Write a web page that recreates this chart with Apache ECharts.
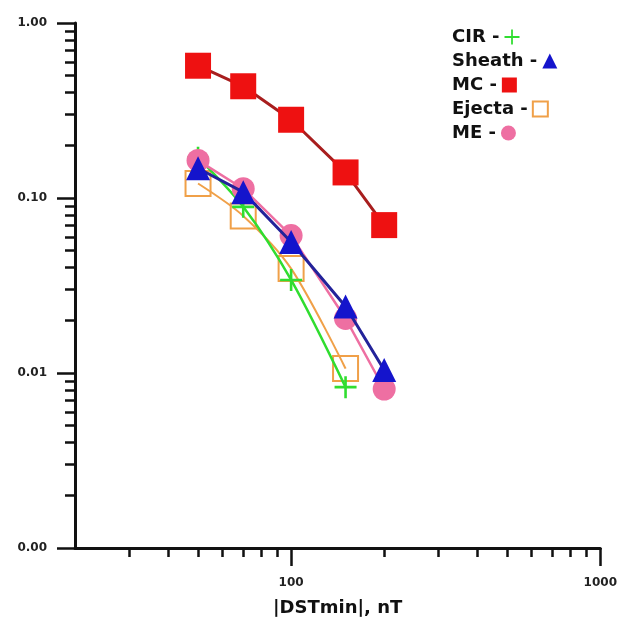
<!DOCTYPE html>
<html>
<head>
<meta charset="utf-8">
<script src="https://cdn.jsdelivr.net/npm/echarts@6/dist/echarts.min.js"></script>
<style>
  html, body { margin: 0; padding: 0; background: #fff; }
</style>
</head>
<body>
<div id="dstChart" style="width: 620px;height: 626px"></div>
<script>
  // |DSTmin| bins (nT)
  var dst = [50, 70, 100, 150, 200];
  var cir = [0.17, 0.089, 0.034, 0.0083];
  var sheath = [0.148, 0.108, 0.056, 0.024, 0.0104];
  var mc = [0.57, 0.435, 0.28, 0.14, 0.07];
  var ejecta = [0.121, 0.079, 0.0395, 0.0106];
  var me = [0.164, 0.113, 0.061, 0.0205, 0.0081];

  var legendNames = ['CIR', 'Sheath', 'MC', 'Ejecta', 'ME'];
  var xMajor = [100, 1000];
  var xMinor = [30, 40, 50, 60, 70, 80, 90, 200, 300, 400, 500, 600, 700, 800, 900];
  var yMajor = [0.001, 0.01, 0.1, 1];
  var yMinor = [0.002, 0.003, 0.004, 0.005, 0.006, 0.007, 0.008, 0.009,
    0.02, 0.03, 0.04, 0.05, 0.06, 0.07, 0.08, 0.09,
    0.2, 0.3, 0.4, 0.5, 0.6, 0.7, 0.8, 0.9];

  var plusIcon = 'path://M9,0h2.4v9h9v2.4h-9v9h-2.4v-9h-9v-2.4h9z';
  var legendIcons = [plusIcon, 'triangle', 'rect', 'rect', 'circle'];
  var fontName = 'DejaVu Sans';
  var axisColor = '#111';

  function pairs(ys) {
    var out = [];
    for (var i = 0; i < ys.length; i++) {
      out.push([dst[i], ys[i]]);
    }
    return out;
  }

  // one legend per row so the text stays left aligned and the icon trails it
  var legends = [];
  for (var i = 0; i < legendNames.length; i++) {
    legends.push({
      left: 447,
      top: 23 + i * 24,
      align: 'right',
      itemWidth: 15,
      itemHeight: 15,
      formatter: '{name} -',
      textStyle: {fontFamily: fontName, fontSize: 18, fontWeight: 'bold', color: '#111'},
      data: [{name: legendNames[i], icon: legendIcons[i]}]
    });
  }

  var option = {
    backgroundColor: '#fff',
    animation: false,
    grid: {left: 75, right: 19, top: 23, bottom: 78},
    legend: legends,
    xAxis: [{
      type: 'log',
      logBase: 10,
      min: 20,
      max: 1000,
      position: 'bottom',
      name: '|DSTmin|, nT',
      nameLocation: 'middle',
      nameGap: 51,
      nameTextStyle: {fontFamily: fontName, fontSize: 18, fontWeight: 'bold', color: '#111'},
      axisLine: {lineStyle: {color: axisColor, width: 3}},
      axisTick: {customValues: xMajor, length: 18, lineStyle: {color: axisColor, width: 2.5}},
      axisLabel: {
        customValues: xMajor, margin: 29,
        fontFamily: fontName, fontSize: 12, fontWeight: 'bold', color: '#222',
        formatter: function (v) { return String(v); }
      },
      splitLine: {show: false}
    }, {
      type: 'log',
      logBase: 10,
      min: 20,
      max: 1000,
      position: 'bottom',
      axisLine: {show: false},
      axisTick: {customValues: xMinor, length: 9, lineStyle: {color: axisColor, width: 2.5}},
      axisLabel: {show: false},
      splitLine: {show: false}
    }],
    yAxis: [{
      type: 'log',
      logBase: 10,
      min: 0.001,
      max: 1,
      position: 'left',
      axisLine: {show: true, lineStyle: {color: axisColor, width: 3}},
      axisTick: {show: true, customValues: yMajor, length: 18, lineStyle: {color: axisColor, width: 2.5}},
      axisLabel: {
        customValues: yMajor,
        margin: 28,
        fontFamily: fontName, fontSize: 12, fontWeight: 'bold', color: '#222',
        formatter: function (v) { return v.toFixed(2); }
      },
      splitLine: {show: false}
    }, {
      type: 'log',
      logBase: 10,
      min: 0.001,
      max: 1,
      position: 'left',
      axisLine: {show: false},
      axisTick: {show: true, customValues: yMinor, length: 10, lineStyle: {color: axisColor, width: 2.5}},
      axisLabel: {show: false},
      splitLine: {show: false}
    }],
    series: [{
      name: 'Ejecta',
      type: 'line',
      smooth: 0.3,
      symbol: 'rect',
      symbolSize: 25,
      itemStyle: {color: 'rgba(255,255,255,0)', borderColor: '#f0a048', borderWidth: 2},
      lineStyle: {color: '#f0a048', width: 2},
      z: 2,
      data: pairs(ejecta)
    }, {
      name: 'CIR',
      type: 'line',
      smooth: 0.3,
      symbol: plusIcon,
      symbolSize: 22,
      itemStyle: {color: '#30dd30'},
      lineStyle: {color: '#30dd30', width: 2.5},
      z: 3,
      data: pairs(cir)
    }, {
      name: 'ME',
      type: 'line',
      symbol: 'circle',
      symbolSize: 23,
      itemStyle: {color: '#ee6fa2'},
      lineStyle: {color: '#ee6fa2', width: 2.5},
      z: 4,
      data: pairs(me)
    }, {
      name: 'Sheath',
      type: 'line',
      symbol: 'triangle',
      symbolSize: 24,
      itemStyle: {color: '#1414cc'},
      lineStyle: {color: '#23239a', width: 3},
      z: 5,
      data: pairs(sheath)
    }, {
      name: 'MC',
      type: 'line',
      symbol: 'rect',
      symbolSize: 26,
      itemStyle: {color: '#ee1111'},
      lineStyle: {color: '#a81e1e', width: 3},
      z: 6,
      data: pairs(mc)
    }]
  };

  var chart = echarts.init(document.getElementById('dstChart'));
  chart.setOption(option);
</script>
</body>
</html>
